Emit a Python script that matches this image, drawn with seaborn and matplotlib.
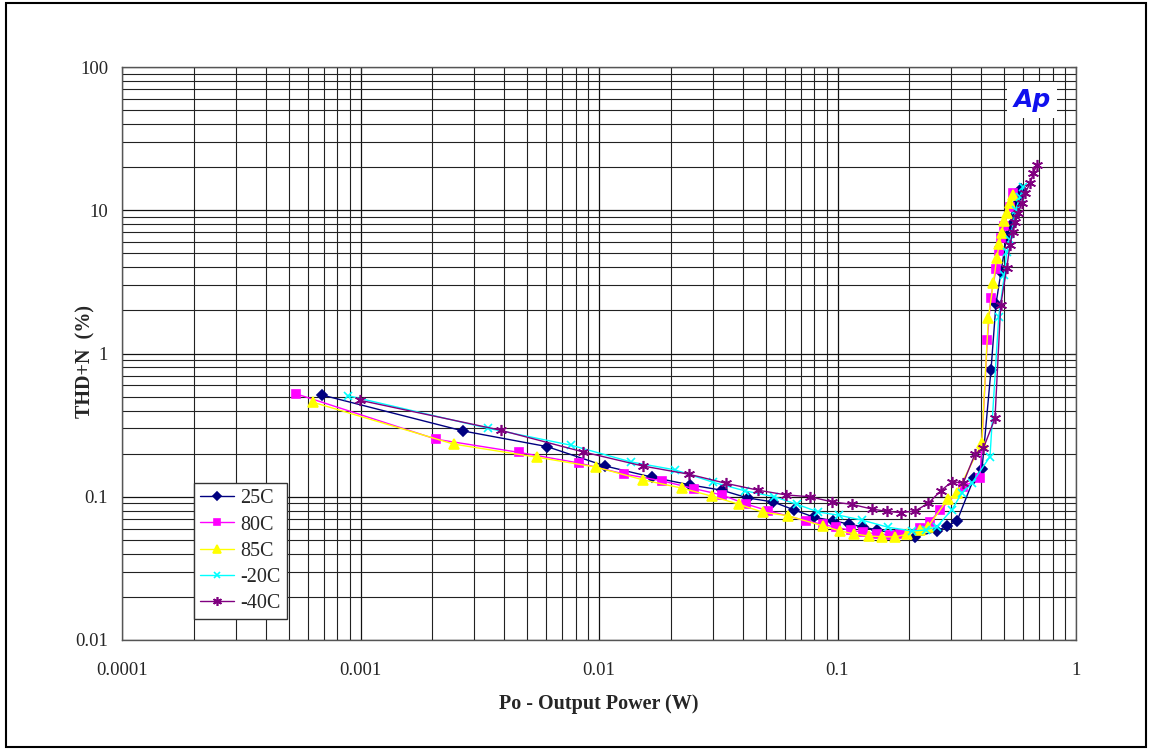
import matplotlib
matplotlib.use("Agg")
import matplotlib.pyplot as plt
import seaborn as sns
import numpy as np
from matplotlib.patches import Rectangle
from matplotlib.ticker import LogLocator, FixedLocator, FixedFormatter, NullFormatter

# ---- data ----
p_25 = [0.00069, 0.00269, 0.00605, 0.0106, 0.0167, 0.0241, 0.0328, 0.0421, 0.0537, 0.0657,
        0.0797, 0.0958, 0.1117, 0.128, 0.1464, 0.1777, 0.2113, 0.2613, 0.2878, 0.317,
        0.3736, 0.4036, 0.4401, 0.4619, 0.4847, 0.5122, 0.5339, 0.5534, 0.5658, 0.5768, 0.5864]
t_25 = [0.513, 0.288, 0.224, 0.164, 0.137, 0.121, 0.111, 0.098, 0.092, 0.081,
        0.072, 0.068, 0.0645, 0.0615, 0.0586, 0.055, 0.0524, 0.0577, 0.0625, 0.0677,
        0.135, 0.156, 0.767, 2.22, 3.71, 6.61, 7.89, 9.26, 11.05, 12.57, 14.07]

p_80 = [0.000535, 0.00208, 0.00462, 0.00824, 0.01277, 0.01843, 0.025, 0.0327, 0.0413, 0.051,
        0.0736, 0.0867, 0.0983, 0.1139, 0.128, 0.1464, 0.166, 0.1823, 0.2218, 0.2442,
        0.2691, 0.337, 0.396, 0.4248, 0.4389, 0.4619, 0.4742, 0.4847, 0.4991, 0.5287, 0.5459]
t_80 = [0.524, 0.252, 0.204, 0.172, 0.144, 0.129, 0.114, 0.103, 0.089, 0.080,
        0.068, 0.0642, 0.0612, 0.0583, 0.0565, 0.0552, 0.0543, 0.0547, 0.0602, 0.067,
        0.0808, 0.1176, 0.1352, 1.243, 2.453, 3.87, 5.19, 6.40, 7.76, 10.59, 13.13]

p_85 = [0.000634, 0.00246, 0.00548, 0.00971, 0.01534, 0.0222, 0.0297, 0.0386, 0.0487, 0.062,
        0.087, 0.1024, 0.1173, 0.1351, 0.1532, 0.1742, 0.195, 0.2218, 0.2396, 0.2897,
        0.3161, 0.4024, 0.4289, 0.45, 0.465, 0.4768, 0.488, 0.4991, 0.5122, 0.5287, 0.5459]
t_85 = [0.456, 0.233, 0.189, 0.161, 0.131, 0.115, 0.101, 0.0886, 0.0779, 0.0737,
        0.0625, 0.0577, 0.055, 0.0532, 0.0526, 0.0524, 0.0547, 0.0586, 0.0618, 0.0959,
        0.1057, 0.236, 1.761, 3.09, 4.62, 5.78, 6.90, 8.41, 9.52, 11.18, 12.78]

p_m20 = [0.000889, 0.00344, 0.00763, 0.01362, 0.02084, 0.0302, 0.0409, 0.0543, 0.0675, 0.0831,
         0.1017, 0.1263, 0.1633, 0.2047, 0.2344, 0.2606, 0.3012, 0.3317, 0.3654, 0.4359,
         0.4742, 0.5006, 0.5122, 0.5287, 0.5587, 0.5824, 0.6012]
t_m20 = [0.507, 0.300, 0.229, 0.175, 0.154, 0.126, 0.110, 0.100, 0.0886, 0.0783,
         0.0742, 0.0688, 0.0612, 0.0577, 0.0586, 0.0618, 0.0808, 0.1057, 0.1241, 0.1905,
         1.807, 3.53, 5.14, 6.20, 10.04, 12.43, 14.60]

p_m40 = [0.000998, 0.00388, 0.00854, 0.01525, 0.0239, 0.0341, 0.0466, 0.0608, 0.0767, 0.0951,
         0.1147, 0.1391, 0.1608, 0.1846, 0.2113, 0.2403, 0.2709, 0.3012, 0.337, 0.3772,
         0.4087, 0.4575, 0.4834, 0.5122, 0.5287, 0.5428, 0.5549, 0.5729, 0.5919, 0.6111,
         0.6414, 0.6622, 0.6843]
t_m40 = [0.471, 0.291, 0.206, 0.164, 0.1435, 0.124, 0.111, 0.103, 0.100, 0.092,
         0.0886, 0.0821, 0.0791, 0.0774, 0.0795, 0.090, 0.110, 0.127, 0.125, 0.199,
         0.218, 0.353, 2.18, 3.93, 5.72, 7.08, 8.32, 9.52, 11.18, 13.13,
         15.41, 18.09, 20.7]

series_labels = ["25C", "80C", "85C", "-20C", "-40C"]
x_ticks = [0.0001, 0.001, 0.01, 0.1, 1]
x_tick_labels = ["0.0001", "0.001", "0.01", "0.1", "1"]
y_ticks = [0.01, 0.1, 1, 10, 100]
y_tick_labels = ["0.01", "0.1", "1", "10", "100"]

# ---- style ----
sns.set_style("white")
plt.rcParams['font.family'] = ['Liberation Serif', 'DejaVu Serif']

fig = plt.figure(figsize=(11.49, 7.49), dpi=100)
ax = fig.add_axes([122/1149, 1-640/749, (1076-122)/1149, (640-67)/749])

styles = [
    (p_25, t_25, "#000080", "D", 5, "#000080"),
    (p_80, t_80, "#FF00FF", "s", 6, "#FF00FF"),
    (p_85, t_85, "#FFFF00", "^", 6.5, "#FFFF00"),
    (p_m20, t_m20, "#00FFFF", "x", 6, "#00FFFF"),
    (p_m40, t_m40, "#800080", (6, 2, 0), 8, "#800080"),
]

ax.set_xscale("log")
ax.set_yscale("log")
ax.set_xlim(1e-4, 1)
ax.set_ylim(0.01, 100)

# grid
ax.grid(True, which="major", color="#111111", lw=0.9)
ax.grid(True, which="minor", color="#222222", lw=0.8)
ax.set_axisbelow(True)

for (px, ty, col, mk, ms, mec), lab in zip(styles, series_labels):
    sns.lineplot(x=px, y=ty, ax=ax, color=col, lw=1.0, marker=mk, markersize=ms,
                 markeredgecolor=mec, markeredgewidth=1.2, sort=False, estimator=None,
                 label=lab, zorder=3)

ax.xaxis.set_major_locator(FixedLocator(x_ticks))
ax.xaxis.set_major_formatter(FixedFormatter(x_tick_labels))
ax.yaxis.set_major_locator(FixedLocator(y_ticks))
ax.yaxis.set_major_formatter(FixedFormatter(y_tick_labels))
ax.xaxis.set_minor_locator(LogLocator(base=10, subs=np.arange(2, 10)))
ax.yaxis.set_minor_locator(LogLocator(base=10, subs=np.arange(2, 10)))
ax.xaxis.set_minor_formatter(NullFormatter())
ax.yaxis.set_minor_formatter(NullFormatter())

ax.tick_params(axis="x", which="major", direction="in", length=4, pad=16, labelsize=13.5, top=True)
ax.tick_params(axis="y", which="major", direction="in", length=4, pad=10, labelsize=13.5, right=True)
ax.tick_params(which="minor", direction="in", length=2, top=True, right=True)

for s in ax.spines.values():
    s.set_color("#555555")
    s.set_linewidth(1.0)

ax.set_xlabel("Po - Output Power (W)", fontsize=14.5, fontweight="bold", va="center")
ax.set_ylabel("THD+N  (%)", fontsize=14.5, fontweight="bold", va="center")
ax.xaxis.set_label_coords(0.5, (640-704)/573)
ax.yaxis.set_label_coords((85-122)/954, (640-362)/573)

leg = ax.legend(loc="lower left", bbox_to_anchor=((194-122)/954, (640-619)/573),
                frameon=True, fancybox=False, framealpha=1, edgecolor="#333333",
                fontsize=14.5, borderpad=0.3, labelspacing=0.35, handlelength=1.7,
                handletextpad=0.3, borderaxespad=0, markerscale=0.8)
leg.get_frame().set_linewidth(1.0)

# logo
ax.text(1032/1149, 1-100/749, "Ap", transform=fig.transFigure, ha="center", va="center",
        fontsize=18, fontweight="bold", fontstyle="italic", color="#1010EE",
        family="DejaVu Sans",
        bbox=dict(boxstyle="square,pad=0.25", fc="white", ec="none"), zorder=5)

# outer border
fig.patches.append(Rectangle((6/1149, 2/749), 1140/1149, 744/749, transform=fig.transFigure,
                             fill=False, ec="black", lw=1.5))

fig.savefig("out.png", dpi=100)
